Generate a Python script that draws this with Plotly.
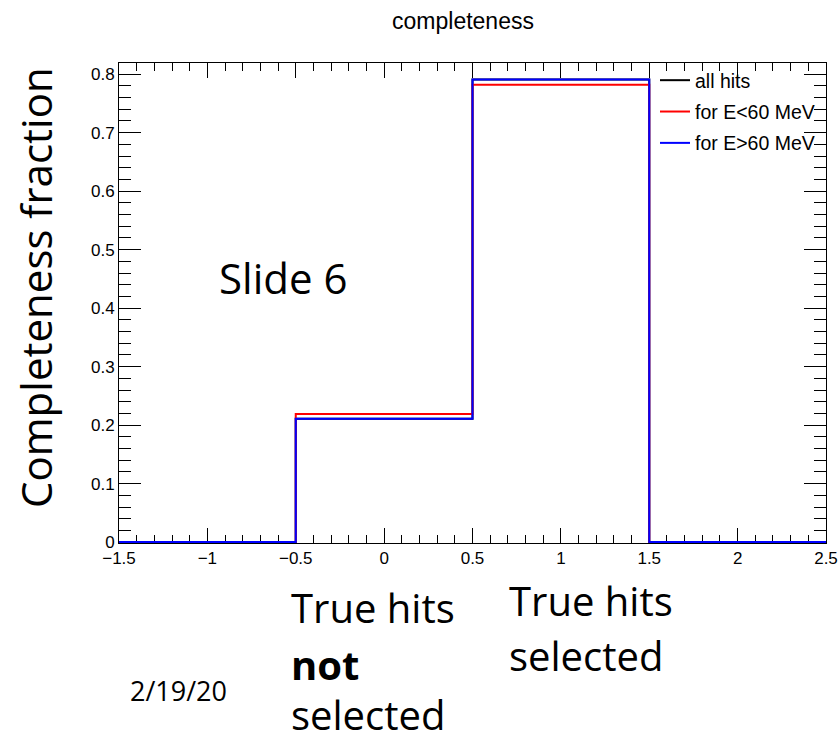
import plotly.graph_objects as go

# ---- data ----
bin_centers = [-1.0, 0.0, 1.0, 2.0]
bin_width = 1.0
all_hits = [0.0, 0.211, 0.791, 0.0]
e_low = [0.0, 0.219, 0.782, 0.0]
e_high = [0.0, 0.211, 0.791, 0.0]
series_names = ["all hits", "for E<60 MeV", "for E>60 MeV"]
series_colors = ["#000000", "#ff0000", "#0000ff"]

edges = [c - bin_width / 2 for c in bin_centers] + [bin_centers[-1] + bin_width / 2]


def step_y(vals):
    return list(vals) + [vals[-1]]


fig = go.Figure()
for i, (name, vals, col) in enumerate(zip(series_names, [all_hits, e_low, e_high], series_colors)):
    fig.add_trace(go.Scatter(
        x=edges, y=step_y(vals), mode="lines", name=name,
        line=dict(color=col, width=2, shape="hv"),
        legendgroup=f"g{i}", hoverinfo="skip",
    ))

W, H = 838, 738
L, R, T, B = 119, 12, 63, 195

fig.update_layout(
    width=W, height=H,
    margin=dict(l=L, r=R, t=T, b=B, pad=0, autoexpand=False),
    paper_bgcolor="white", plot_bgcolor="white",
    font=dict(family="Liberation Sans, Arial, sans-serif", color="black"),
    title=dict(text="completeness", x=463 / W, xanchor="center", y=1 - 21 / H, yanchor="middle",
               font=dict(size=23, family="Liberation Sans, Arial, sans-serif", color="black")),
    showlegend=True,
    legend=dict(xref="container", yref="container", x=655 / W, xanchor="left",
                y=1 - 61 / H, yanchor="top",
                bgcolor="rgba(0,0,0,0)", borderwidth=0,
                font=dict(size=19.5, family="Liberation Sans, Arial, sans-serif", color="black"),
                tracegroupgap=3, itemwidth=30),
)

fig.update_xaxes(
    range=[-1.5, 2.5], showgrid=False, zeroline=False,
    showline=True, linecolor="black", linewidth=1, mirror="ticks",
    ticks="inside", ticklen=15, tickwidth=1, tickcolor="black", dtick=0.5, tick0=-1.5,
    minor=dict(ticks="inside", ticklen=8, dtick=0.1, tickcolor="black", tickwidth=1, showgrid=False),
    tickfont=dict(size=17, family="Liberation Sans, Arial, sans-serif", color="black"),
    layer="below traces",
)
fig.update_yaxes(
    range=[-0.0015, 0.819], showgrid=False, zeroline=False,
    showline=True, linecolor="black", linewidth=1, mirror="ticks",
    ticks="inside", ticklen=22, tickwidth=1, tickcolor="black", dtick=0.1, tick0=0,
    minor=dict(ticks="inside", ticklen=12, dtick=0.02, tickcolor="black", tickwidth=1, showgrid=False),
    tickfont=dict(size=17, family="Liberation Sans, Arial, sans-serif", color="black"),
    layer="below traces",
)

PW, PH = W - L - R, H - T - B


def px2paper(x, y):
    return (x - L) / PW, (H - B - y) / PH


ann_font = "Open Sans, Noto Sans, sans-serif"
texts = [
    ("Completeness fraction", 35, 288, 42, "center", -90),
    ("Slide 6", 283, 277, 42, "center", 0),
    ("True hits", 289, 607, 40, "left", 0),
    ("<b>not</b>", 289, 664, 40, "left", 0),
    ("selected", 289, 714, 40, "left", 0),
    ("True hits", 507, 600, 40, "left", 0),
    ("selected", 507, 655, 40, "left", 0),
    ("2/19/20", 128, 690, 27, "left", 0),
]
for txt, x, y, size, xa, ang in texts:
    px, py = px2paper(x, y)
    fig.add_annotation(text=txt, x=px, y=py, xref="paper", yref="paper",
                       xanchor=xa, yanchor="middle", showarrow=False, textangle=ang,
                       font=dict(size=size, family=ann_font, color="black"))

fig.write_html("out.html")
